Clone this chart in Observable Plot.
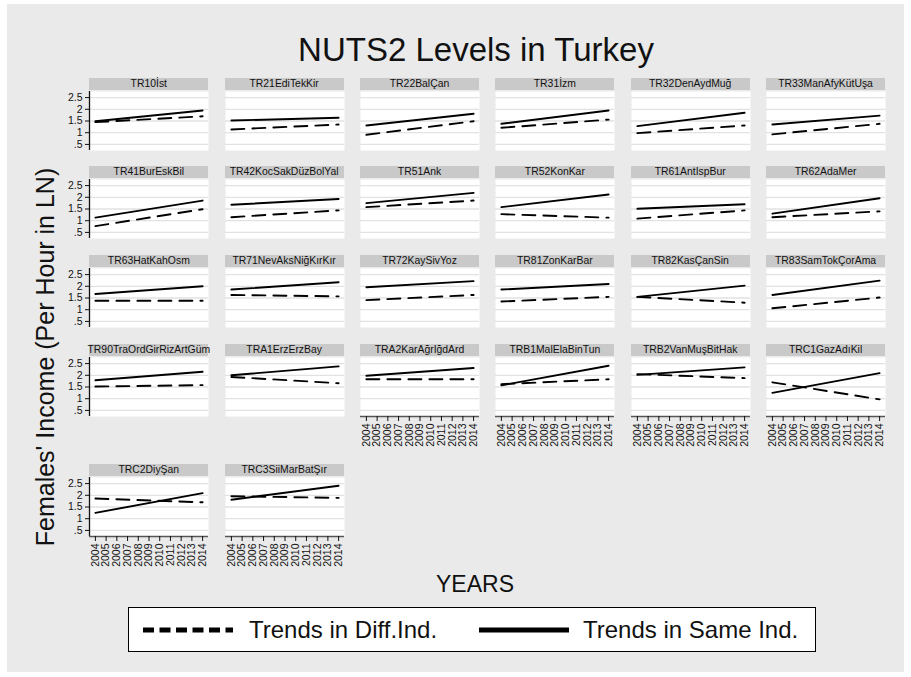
<!DOCTYPE html>
<html>
<head>
<meta charset="utf-8">
<script src="https://cdn.jsdelivr.net/npm/d3@7"></script>
<script src="https://cdn.jsdelivr.net/npm/@observablehq/plot@0.6"></script>
<style>
  html, body { margin: 0; padding: 0; background: #ffffff; }
  #page { position: relative; width: 911px; height: 677px; overflow: hidden; font-family: "Liberation Sans", Arial, sans-serif; }
  #bg { position: absolute; left: 7px; top: 4px; width: 897px; height: 668px; background: #eaeaea; }
  .abs { position: absolute; }
  .hdr { position: absolute; background: #c9c9c9; color: #111; font-size: 10.4px; line-height: 12px; text-align: center; white-space: nowrap; display: flex; justify-content: center; }
  .title { font-size: 33px; line-height: 33px; color: #111; white-space: nowrap; transform: translateX(-50%); }
  .ylab { font-size: 25px; line-height: 25px; color: #111; white-space: nowrap; transform: translate(-50%, -50%) rotate(-90deg); }
  .xlab { font-size: 23px; line-height: 23px; color: #111; white-space: nowrap; transform: translateX(-50%); }
  #legend { position: absolute; left: 128px; top: 607px; width: 686px; height: 43px; border: 1px solid #000; background: #fff; }
  .legtxt { position: absolute; font-size: 24px; line-height: 24px; top: 10px; color: #111; white-space: nowrap; }
</style>
</head>
<body>
<div id="page">
  <div id="bg"></div>
</div>
<script>
// ---------- data ----------
const regions = ["TR10İst","TR21EdiTekKir","TR22BalÇan","TR31İzm","TR32DenAydMuğ","TR33ManAfyKütUşa",
  "TR41BurEskBil","TR42KocSakDüzBolYal","TR51Ank","TR52KonKar","TR61AntIspBur","TR62AdaMer",
  "TR63HatKahOsm","TR71NevAksNiğKırKır","TR72KaySivYoz","TR81ZonKarBar","TR82KasÇanSin","TR83SamTokÇorAma",
  "TR90TraOrdGirRizArtGüm","TRA1ErzErzBay","TRA2KarAğrIğdArd","TRB1MalElaBinTun","TRB2VanMuşBitHak","TRC1GazAdıKil",
  "TRC2DiyŞan","TRC3SiiMarBatŞır"];
// Trends in Same Ind. (solid): value in 2004 and in 2014
const sameStart = [1.49,1.52,1.31,1.38,1.28,1.35, 1.13,1.68,1.75,1.58,1.51,1.30, 1.67,1.86,1.96,1.86,1.55,1.63, 1.79,2.00,1.98,1.57,2.02,1.25, 1.25,1.81];
const sameEnd   = [1.95,1.64,1.81,1.95,1.85,1.73, 1.86,1.93,2.19,2.12,1.70,1.96, 2.00,2.17,2.22,2.10,2.03,2.24, 2.15,2.38,2.31,2.41,2.34,2.09, 2.09,2.41];
// Trends in Diff.Ind. (dashed): value in 2004 and in 2014
const diffStart = [1.45,1.14,0.91,1.21,0.98,0.93, 0.77,1.15,1.58,1.28,1.09,1.15, 1.38,1.63,1.41,1.35,1.55,1.06, 1.52,1.93,1.83,1.62,2.05,1.70, 1.86,1.96];
const diffEnd   = [1.70,1.35,1.49,1.56,1.31,1.38, 1.49,1.44,1.86,1.13,1.44,1.40, 1.38,1.57,1.63,1.55,1.30,1.52, 1.58,1.66,1.83,1.83,1.88,0.97, 1.70,1.89];
const years = [2004,2005,2006,2007,2008,2009,2010,2011,2012,2013,2014];
const yTicks = [0.5,1,1.5,2,2.5];
const yTickLabels = [".5","1","1.5","2","2.5"];
const seriesNames = ["Trends in Diff.Ind.","Trends in Same Ind."];
const titleText = "NUTS2 Levels in Turkey";
const yTitle = "Females' Income (Per Hour in LN)";
const xTitle = "YEARS";

// ---------- layout ----------
const page = document.getElementById("page");
const colLeft0 = 89.3, colStep = 135.35, panelW = 119, panelH = 59;
const rowTops = [91.2, 178.9, 267.9, 356.9, 476.9];
const xDomain = [2003.45, 2014.55];
const yDomain = [0.24, 2.76];
const nCols = 6;

function isBottom(i) {
  return i + nCols >= regions.length;
}

regions.forEach((name, i) => {
  const row = Math.floor(i / nCols), col = i % nCols;
  const left = colLeft0 + col * colStep;
  const top = rowTops[row];
  const showY = col === 0;
  const showX = isBottom(i);
  const ml = showY ? 40 : 0;
  const mb = showX ? 36 : 0;

  const data = [
    {series: "same", year: years[0], value: sameStart[i]},
    {series: "same", year: years[years.length - 1], value: sameEnd[i]},
    {series: "diff", year: years[0], value: diffStart[i]},
    {series: "diff", year: years[years.length - 1], value: diffEnd[i]}
  ];

  const marks = [
    Plot.frame({fill: "white", stroke: null}),
    Plot.gridY(yTicks, {stroke: "#e2e2e2", strokeOpacity: 1, strokeWidth: 1.3}),
    Plot.line(data.filter(d => d.series === "same"), {x: "year", y: "value", stroke: "#000", strokeWidth: 1.9}),
    Plot.line(data.filter(d => d.series === "diff"), {x: "year", y: "value", stroke: "#000", strokeWidth: 1.9, strokeDasharray: "13,8"})
  ];
  if (showY) {
    marks.push(Plot.ruleX([xDomain[0]], {stroke: "#111", strokeWidth: 1.3}));
    marks.push(Plot.axisY(yTicks, {label: null, tickSize: 4, tickPadding: 3, tickFormat: d => yTickLabels[yTicks.indexOf(d)], fill: "#111", stroke: "#111"}));
  }
  if (showX) {
    marks.push(Plot.ruleY([yDomain[0]], {stroke: "#555", strokeWidth: 1.6}));
    marks.push(Plot.axisX(years, {label: null, tickRotate: -90, tickSize: 5, tickPadding: 2, tickFormat: d => String(d), fill: "#111", stroke: "#111"}));
  }

  const svg = Plot.plot({
    width: panelW + ml,
    height: panelH + mb,
    marginLeft: ml, marginRight: 0, marginTop: 0, marginBottom: mb,
    x: {type: "linear", domain: xDomain, label: null, axis: showX ? undefined : null},
    y: {type: "linear", domain: yDomain, label: null, axis: showY ? undefined : null},
    style: {fontFamily: "Liberation Sans, Arial, sans-serif", fontSize: "10.5px", background: "transparent", overflow: "visible", maxWidth: "none"},
    marks
  });
  svg.style.position = "absolute";
  svg.style.left = (left - ml) + "px";
  svg.style.top = top + "px";
  page.appendChild(svg);

  const hdr = document.createElement("div");
  hdr.className = "hdr";
  hdr.style.left = left + "px";
  hdr.style.top = (top - 12.8) + "px";
  hdr.style.width = panelW + "px";
  hdr.style.height = "12px";
  const sp = document.createElement("span");
  sp.textContent = name;
  hdr.appendChild(sp);
  page.appendChild(hdr);
});

// titles
const t = document.createElement("div");
t.className = "abs title"; t.style.left = "476px"; t.style.top = "33px"; t.textContent = titleText;
page.appendChild(t);
const yl = document.createElement("div");
yl.className = "abs ylab"; yl.style.left = "45px"; yl.style.top = "357px"; yl.textContent = yTitle;
page.appendChild(yl);
const xl = document.createElement("div");
xl.className = "abs xlab"; xl.style.left = "475px"; xl.style.top = "573px"; xl.textContent = xTitle;
page.appendChild(xl);

// legend
const leg = document.createElement("div");
leg.id = "legend";
leg.innerHTML = `
  <svg class="abs" style="left:13px;top:18px" width="92" height="8"><line x1="1" y1="4" x2="91" y2="4" stroke="#000" stroke-width="5" stroke-dasharray="11,5.5"/></svg>
  <div class="legtxt" style="left:120px"></div>
  <svg class="abs" style="left:349px;top:18px" width="92" height="8"><line x1="1" y1="4" x2="91" y2="4" stroke="#000" stroke-width="5"/></svg>
  <div class="legtxt" style="left:454px"></div>`;
page.appendChild(leg);
const lt = leg.querySelectorAll(".legtxt");
lt[0].textContent = seriesNames[0];
lt[1].textContent = seriesNames[1];
</script>
</body>
</html>
